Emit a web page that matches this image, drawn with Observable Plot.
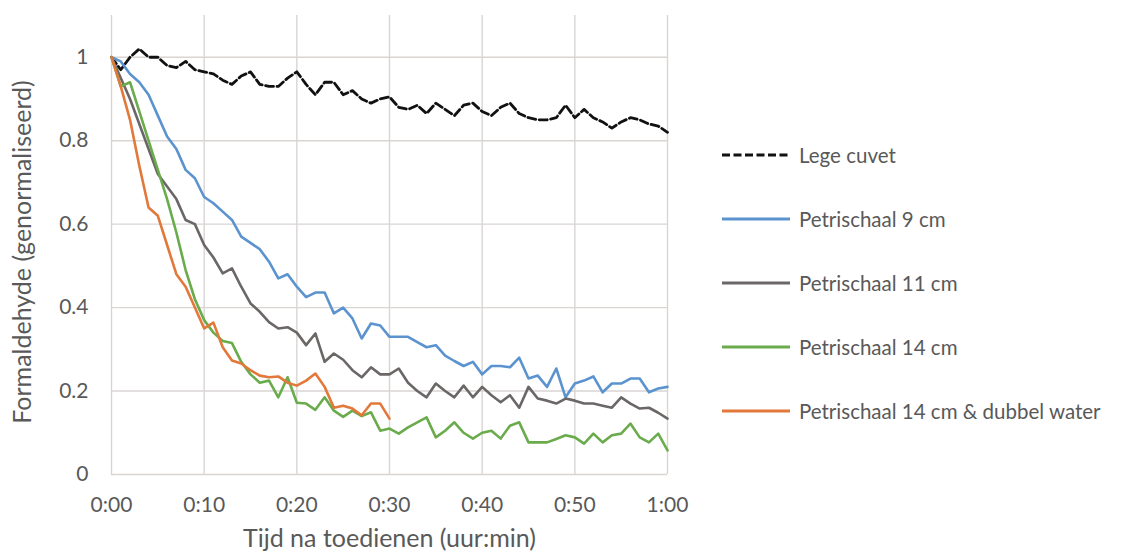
<!DOCTYPE html>
<html>
<head>
<meta charset="utf-8">
<script src="https://cdn.jsdelivr.net/npm/d3@7"></script>
<script src="https://cdn.jsdelivr.net/npm/@observablehq/plot@0.6"></script>
<style>
  body { margin: 0; background: #fff; }
  #wrap { position: relative; width: 1129px; height: 553px; font-family: Lato, "Open Sans", sans-serif; color: #595959; }
  #legend { position: absolute; left: 722px; top: 123px; display: flex; flex-direction: column; }
  .item { height: 64px; display: flex; align-items: center; font-size: 20.5px; white-space: nowrap; }
  .item svg { margin-right: 9px; }
</style>
</head>
<body>
<div id="wrap"><div id="legend"></div></div>
<script>
// Normalised formaldehyde concentration, one reading per minute after dosing.
const legeCuvet = [1.00, 0.97, 1.00, 1.02, 1.00, 1.00, 0.98, 0.975, 0.99, 0.97, 0.965,
  0.96, 0.945, 0.935, 0.955, 0.965, 0.935, 0.93, 0.93, 0.95, 0.965,
  0.935, 0.91, 0.94, 0.94, 0.91, 0.92, 0.90, 0.89, 0.90, 0.905,
  0.88, 0.875, 0.885, 0.865, 0.89, 0.875, 0.86, 0.885, 0.89, 0.87,
  0.86, 0.88, 0.89, 0.865, 0.855, 0.85, 0.85, 0.855, 0.885, 0.855,
  0.875, 0.855, 0.845, 0.83, 0.845, 0.855, 0.85, 0.84, 0.835, 0.82];
const petri9 = [1.00, 0.99, 0.96, 0.94, 0.91, 0.86, 0.81, 0.78, 0.73, 0.71, 0.665,
  0.65, 0.63, 0.61, 0.57, 0.555, 0.54, 0.51, 0.47, 0.48, 0.45,
  0.425, 0.436, 0.436, 0.386, 0.40, 0.374, 0.326, 0.362, 0.357, 0.33,
  0.33, 0.33, 0.317, 0.305, 0.31, 0.285, 0.272, 0.26, 0.27, 0.24,
  0.26, 0.26, 0.257, 0.28, 0.23, 0.237, 0.21, 0.254, 0.185, 0.218,
  0.225, 0.235, 0.197, 0.218, 0.218, 0.23, 0.23, 0.197, 0.206, 0.21];
const petri11 = [1.00, 0.95, 0.90, 0.84, 0.78, 0.72, 0.69, 0.66, 0.61, 0.60, 0.55,
  0.52, 0.482, 0.494, 0.45, 0.41, 0.39, 0.365, 0.35, 0.353, 0.34,
  0.31, 0.338, 0.27, 0.29, 0.275, 0.25, 0.233, 0.257, 0.24, 0.24,
  0.254, 0.22, 0.20, 0.185, 0.218, 0.20, 0.185, 0.213, 0.185, 0.21,
  0.19, 0.173, 0.19, 0.16, 0.21, 0.182, 0.177, 0.17, 0.182, 0.177,
  0.17, 0.17, 0.165, 0.16, 0.185, 0.17, 0.158, 0.16, 0.148, 0.134];
const petri14 = [1.00, 0.93, 0.94, 0.87, 0.80, 0.73, 0.66, 0.58, 0.49, 0.42, 0.37,
  0.34, 0.32, 0.315, 0.27, 0.24, 0.22, 0.225, 0.185, 0.233, 0.172,
  0.17, 0.155, 0.185, 0.153, 0.138, 0.153, 0.14, 0.149, 0.105, 0.11,
  0.098, 0.113, 0.125, 0.137, 0.089, 0.105, 0.125, 0.10, 0.086, 0.10,
  0.105, 0.086, 0.117, 0.125, 0.077, 0.077, 0.077, 0.085, 0.094, 0.089,
  0.074, 0.098, 0.077, 0.094, 0.098, 0.122, 0.089, 0.077, 0.098, 0.058];
const petri14Dubbel = [1.00, 0.93, 0.85, 0.74, 0.64, 0.62, 0.55, 0.48, 0.45, 0.40, 0.35,
  0.364, 0.305, 0.273, 0.266, 0.25, 0.237, 0.233, 0.235, 0.22, 0.213,
  0.225, 0.242, 0.21, 0.16, 0.165, 0.158, 0.142, 0.17, 0.17, 0.134];

const seriesNames = ["Lege cuvet", "Petrischaal 9 cm", "Petrischaal 11 cm", "Petrischaal 14 cm", "Petrischaal 14 cm & dubbel water"];
const seriesValues = [legeCuvet, petri9, petri11, petri14, petri14Dubbel];
const seriesColors = ["#111111", "#5b93cf", "#6b6767", "#6aab4c", "#e2783a"];
const seriesDash = ["8,3.5", null, null, null, null];

const xTicks = [0, 10, 20, 30, 40, 50, 60];
const xTickLabels = ["0:00", "0:10", "0:20", "0:30", "0:40", "0:50", "1:00"];
const yTicks = [0, 0.2, 0.4, 0.6, 0.8, 1];
const yTickLabels = ["0", "0.2", "0.4", "0.6", "0.8", "1"];
const xTitle = "Tijd na toedienen (uur:min)";
const yTitle = "Formaldehyde (genormaliseerd)";

const rows = seriesValues.map((vals, s) => vals.map((v, i) => ({minuut: i, waarde: v, reeks: seriesNames[s]})));

const gridStyle = {stroke: "#d9d5d3", strokeOpacity: 1, strokeWidth: 1.4};

const chart = Plot.plot({
  width: 1129,
  height: 553,
  marginLeft: 111,
  marginRight: 462,
  marginTop: 15,
  marginBottom: 79,
  style: {fontFamily: "Lato, 'Open Sans', sans-serif", fontSize: "21px", color: "#595959", background: "transparent"},
  x: {domain: [0, 60]},
  y: {domain: [0, 1.1]},
  marks: [
    Plot.gridX(xTicks, gridStyle),
    Plot.gridY(yTicks, gridStyle),
    ...rows.map((r, s) => Plot.line(r, {
      x: "minuut", y: "waarde",
      stroke: seriesColors[s],
      strokeWidth: s === 0 ? 2.8 : 2.6,
      strokeDasharray: seriesDash[s] ?? undefined,
      strokeLinejoin: "round"
    })),
    Plot.axisX(xTicks, {
      tickSize: 0, tickPadding: 23,
      tickFormat: d => xTickLabels[xTicks.indexOf(d)],
      label: null
    }),
    Plot.axisY(yTicks, {
      tickSize: 0, tickPadding: 23,
      tickFormat: d => yTickLabels[yTicks.indexOf(d)],
      label: null
    }),
    // Axis titles, slightly larger than the tick labels
    Plot.text([xTitle], {
      frameAnchor: "bottom", dy: 72,
      fontSize: 25, fill: "#595959"
    }),
    Plot.text([yTitle], {
      frameAnchor: "left", textAnchor: "middle", rotate: -90, dx: -89, dy: 7,
      fontSize: 25, fill: "#595959"
    })
  ]
});
document.getElementById("wrap").prepend(chart);

// Legend to the right of the plot area
const legend = d3.select("#legend");
seriesNames.forEach((name, s) => {
  const item = legend.append("div").attr("class", "item");
  const sw = item.append("svg").attr("width", 68).attr("height", 10);
  sw.append("line").attr("x1", 0).attr("x2", 68).attr("y1", 5).attr("y2", 5)
    .attr("stroke", seriesColors[s]).attr("stroke-width", 3)
    .attr("stroke-dasharray", seriesDash[s]);
  item.append("span").text(name);
});
</script>
</body>
</html>
